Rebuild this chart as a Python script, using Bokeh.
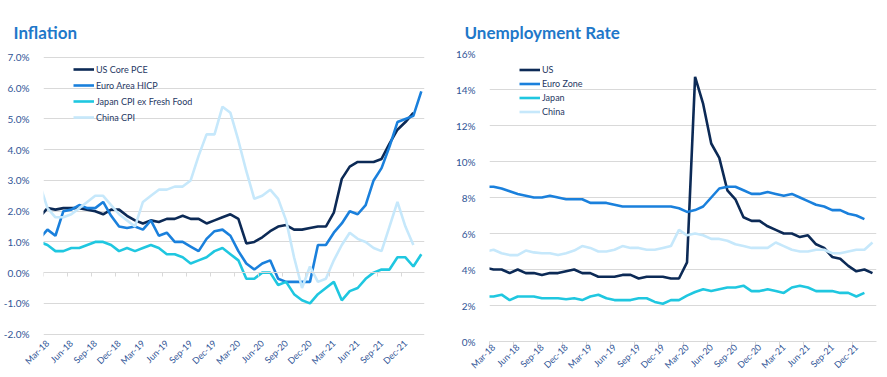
from math import pi
from bokeh.plotting import figure
from bokeh.layouts import row
from bokeh.models import (FixedTicker, CustomJSTickFormatter, PrintfTickFormatter,
                          LinearAxis, Legend, LegendItem, Range1d)
from bokeh.embed import file_html
from bokeh.resources import INLINE

# ---- month labels (index 0 = Feb-18) ----
mon = ["Jan", "Feb", "Mar", "Apr", "May", "Jun", "Jul", "Aug", "Sep", "Oct", "Nov", "Dec"]
months = []
for yr in range(18, 23):
    for m in mon:
        months.append(f"{m}-{yr}")
months = months[1:months.index("Feb-22") + 1]          # Feb-18 .. Feb-22

label_ticks = list(range(1, 47, 3))                     # Mar-18, Jun-18 ... Dec-21
bound_ticks = [t - 0.5 for t in label_ticks]            # category boundaries

# ---- Inflation (% y/y), Feb-18 onwards ----
us_core_pce = [1.8, 2.1, 2.05, 2.1, 2.1, 2.1, 2.05, 2.0, 1.9, 2.05, 2.05, 1.85, 1.7, 1.6, 1.7,
               1.65, 1.75, 1.75, 1.85, 1.75, 1.75, 1.6, 1.7, 1.8, 1.9, 1.75, 0.95, 1.0, 1.15,
               1.35, 1.5, 1.55, 1.4, 1.4, 1.45, 1.5, 1.5, 1.95, 3.05, 3.45, 3.6, 3.6, 3.6, 3.7,
               4.2, 4.65, 4.9, 5.2]
euro_hicp = [1.1, 1.4, 1.2, 2.0, 2.05, 2.2, 2.1, 2.1, 2.3, 1.85, 1.5, 1.45, 1.5, 1.4, 1.7, 1.2,
             1.3, 1.0, 1.0, 0.85, 0.7, 1.1, 1.35, 1.4, 1.2, 0.7, 0.3, 0.1, 0.3, 0.4, -0.2, -0.3,
             -0.3, -0.3, -0.3, 0.9, 0.9, 1.3, 1.6, 2.0, 1.9, 2.2, 3.0, 3.4, 4.1, 4.9, 5.0, 5.1, 5.9]
japan_cpi = [1.0, 0.9, 0.7, 0.7, 0.8, 0.8, 0.9, 1.0, 1.0, 0.9, 0.7, 0.8, 0.7, 0.8, 0.9, 0.8, 0.6,
             0.6, 0.5, 0.3, 0.4, 0.5, 0.7, 0.8, 0.6, 0.4, -0.2, -0.2, 0.0, 0.0, -0.4, -0.3, -0.7,
             -0.9, -1.0, -0.7, -0.5, -0.3, -0.9, -0.6, -0.5, -0.2, 0.0, 0.1, 0.1, 0.5, 0.5, 0.2, 0.6]
china_cpi = [2.9, 2.1, 1.8, 1.8, 1.9, 2.1, 2.3, 2.5, 2.5, 2.2, 1.9, 1.7, 1.5, 2.3, 2.5, 2.7, 2.7,
             2.8, 2.8, 3.0, 3.8, 4.5, 4.5, 5.4, 5.2, 4.3, 3.3, 2.4, 2.5, 2.7, 2.4, 1.7, 0.5, -0.5,
             0.2, -0.3, -0.2, 0.4, 0.9, 1.3, 1.1, 1.0, 0.8, 0.7, 1.5, 2.3, 1.5, 0.9]

# ---- Unemployment rate (%), Feb-18 onwards ----
us_unemp = [4.1, 4.0, 4.0, 3.8, 4.0, 3.8, 3.8, 3.7, 3.8, 3.8, 3.9, 4.0, 3.8, 3.8, 3.6, 3.6, 3.6,
            3.7, 3.7, 3.5, 3.6, 3.6, 3.6, 3.5, 3.5, 4.4, 14.7, 13.2, 11.0, 10.2, 8.4, 7.9, 6.9,
            6.7, 6.7, 6.4, 6.2, 6.0, 6.0, 5.8, 5.9, 5.4, 5.2, 4.7, 4.6, 4.2, 3.9, 4.0, 3.8]
euro_unemp = [8.6, 8.6, 8.5, 8.35, 8.2, 8.1, 8.0, 8.0, 8.1, 8.0, 7.9, 7.9, 7.9, 7.7, 7.7, 7.7, 7.6,
              7.5, 7.5, 7.5, 7.5, 7.5, 7.5, 7.5, 7.4, 7.2, 7.3, 7.5, 8.0, 8.5, 8.6, 8.6, 8.4, 8.2,
              8.2, 8.3, 8.2, 8.1, 8.2, 8.0, 7.8, 7.6, 7.5, 7.3, 7.3, 7.1, 7.0, 6.8]
japan_unemp = [2.5, 2.5, 2.6, 2.3, 2.5, 2.5, 2.5, 2.4, 2.4, 2.4, 2.35, 2.4, 2.3, 2.5, 2.6, 2.4, 2.3,
               2.3, 2.3, 2.4, 2.4, 2.2, 2.1, 2.3, 2.3, 2.55, 2.75, 2.9, 2.8, 2.9, 3.0, 3.0, 3.1,
               2.8, 2.8, 2.9, 2.8, 2.7, 3.0, 3.1, 3.0, 2.8, 2.8, 2.8, 2.7, 2.7, 2.5, 2.7]
china_unemp = [5.0, 5.1, 4.9, 4.8, 4.8, 5.05, 4.95, 4.9, 4.9, 4.8, 4.9, 5.05, 5.3, 5.2, 5.0, 5.0,
               5.1, 5.3, 5.2, 5.2, 5.1, 5.1, 5.2, 5.3, 6.2, 5.9, 6.0, 5.9, 5.7, 5.7, 5.6, 5.4, 5.3,
               5.2, 5.2, 5.2, 5.5, 5.3, 5.1, 5.0, 5.0, 5.1, 5.1, 4.9, 4.9, 5.0, 5.1, 5.1, 5.5]

infl_ticks = list(range(-2, 8))
unemp_ticks = list(range(0, 17, 2))

C_US, C_EU, C_JP, C_CN = "#0c2a56", "#1a80dc", "#1fc7e0", "#c6e8fb"
TITLE_C, TICK_C, LEG_C, GRID_C = "#1f78c9", "#2f5496", "#1f3864", "#d9d9d9"
FONT = "Lato"


def make_panel(title, w, xr, yr, yticks, yfmt, series, borders, title_off, leg_loc, leg_h,
               axis_at_bottom):
    bl, br, bt, bb = borders
    p = figure(width=w, height=377, x_range=Range1d(*xr), y_range=Range1d(*yr),
               output_backend="svg", toolbar_location=None,
               min_border_left=bl, min_border_right=br, min_border_top=bt, min_border_bottom=bb,
               outline_line_color=None, background_fill_color="white", border_fill_color="white")
    p.title.text = title
    p.title.text_font = FONT
    p.title.text_font_size = "17px"
    p.title.text_font_style = "bold"
    p.title.text_color = TITLE_C
    p.title.offset = title_off
    p.title.standoff = 21

    # y axis
    p.yaxis.ticker = FixedTicker(ticks=yticks)
    p.yaxis.formatter = PrintfTickFormatter(format=yfmt)
    p.yaxis.axis_line_color = None
    p.yaxis.major_tick_line_color = None
    p.yaxis.minor_tick_line_color = None
    p.yaxis.major_label_standoff = 8
    p.yaxis.major_label_text_font = FONT
    p.yaxis.major_label_text_font_size = "10px"
    p.yaxis.major_label_text_color = TICK_C
    p.ygrid.grid_line_color = GRID_C
    p.xgrid.visible = False

    # x axis: labels at month centres, small tick marks at category boundaries
    p.xaxis.ticker = FixedTicker(ticks=label_ticks, minor_ticks=bound_ticks)
    p.xaxis.formatter = CustomJSTickFormatter(args=dict(labels=months),
                                              code="return labels[Math.round(tick)] || '';")
    p.xaxis.major_label_orientation = pi / 4
    p.xaxis.major_tick_line_color = None
    p.xaxis.major_tick_in = 0
    p.xaxis.major_tick_out = 0
    p.xaxis.major_label_standoff = 0
    p.xaxis.major_label_text_font = FONT
    p.xaxis.major_label_text_font_size = "9px"
    p.xaxis.major_label_text_color = TICK_C
    if axis_at_bottom:
        p.xaxis.axis_line_color = GRID_C
        p.xaxis.minor_tick_line_color = GRID_C
        p.xaxis.minor_tick_in = 0
        p.xaxis.minor_tick_out = 4
    else:
        p.xaxis.axis_line_color = None
        p.xaxis.minor_tick_line_color = None
        p.xaxis.minor_tick_in = 0
        p.xaxis.minor_tick_out = 0
        zax = LinearAxis(fixed_location=0, ticker=FixedTicker(ticks=[], minor_ticks=bound_ticks),
                         axis_line_color=GRID_C, major_tick_line_color=None,
                         minor_tick_line_color=GRID_C, minor_tick_in=0, minor_tick_out=4)
        p.add_layout(zax, "below")

    items = []
    for name, vals, col in series:
        r = p.line(list(range(len(vals))), vals, line_color=col, line_width=2.6)
        items.append(LegendItem(label=name, renderers=[r]))
    leg = Legend(items=items, location=leg_loc, padding=0, margin=0, spacing=leg_h[1],
                 label_height=leg_h[0], glyph_height=leg_h[0], glyph_width=21, label_standoff=2,
                 label_text_font=FONT, label_text_font_size="9px", label_text_color=LEG_C,
                 background_fill_alpha=0, border_line_color=None)
    p.add_layout(leg)
    return p


# both panels share top (53 px) and bottom (35 px) borders; the left y range is widened so
# that its 7% / -2% gridlines sit where the reference draws them
p1 = make_panel("Inflation", 440, (0.5, 48.4), (-2.24, 7.13), infl_ticks, "%.1f%%",
                [("US Core PCE", us_core_pce, C_US), ("Euro Area HICP", euro_hicp, C_EU),
                 ("Japan CPI ex Fresh Food", japan_cpi, C_JP), ("China CPI", china_cpi, C_CN)],
                (42, 16, 53, 35), -30, (30, 217), (14, 2), False)
p2 = make_panel("Unemployment Rate", 447, (0.5, 48.5), (0, 16), unemp_ticks, "%d%%",
                [("US", us_unemp, C_US), ("Euro Zone", euro_unemp, C_EU),
                 ("Japan", japan_unemp, C_JP), ("China", china_unemp, C_CN)],
                (49, 11, 53, 35), -25, (30, 223), (13, 1), True)

layout = row(p1, p2)
open("out.html", "w").write(file_html(layout, INLINE))
